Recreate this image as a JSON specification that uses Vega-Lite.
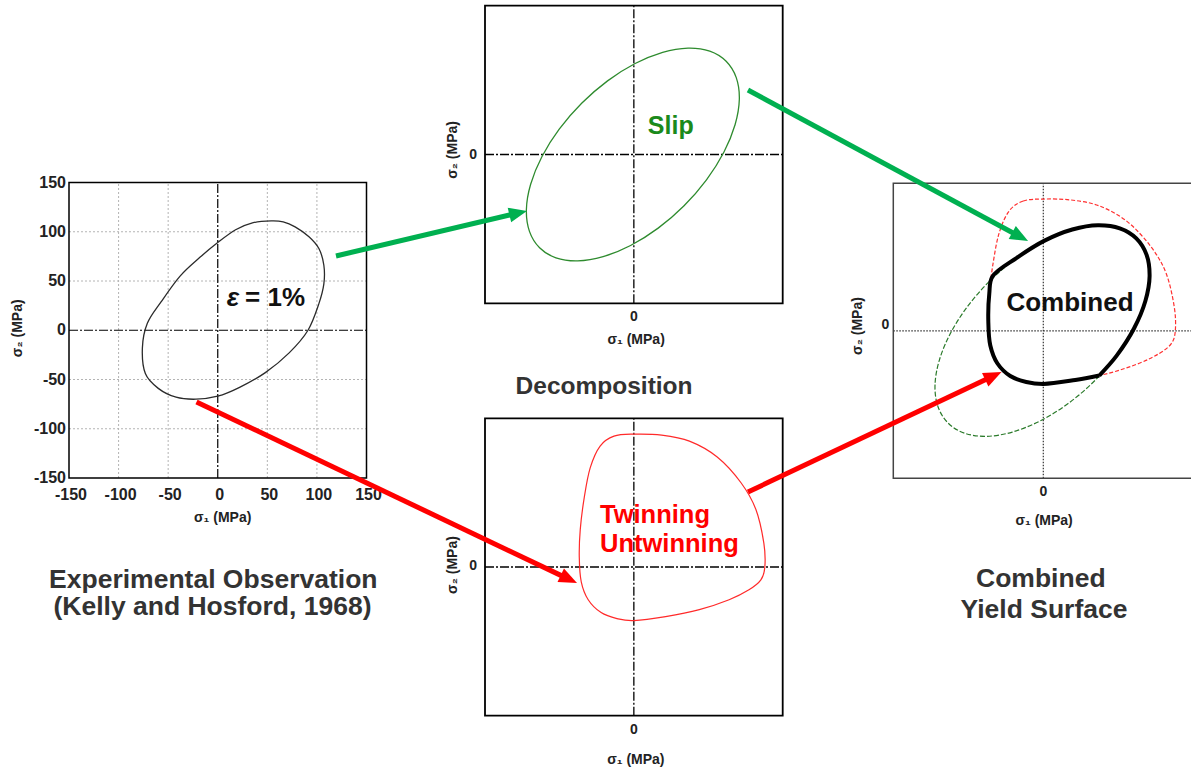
{
  "$schema": "https://vega.github.io/schema/vega-lite/v6.json",
  "width": 1191,
  "height": 772,
  "padding": 0,
  "autosize": {"type": "none"},
  "background": "white",
  "config": {
    "view": {"stroke": null},
    "axis": {"disable": true},
    "text": {"font": "Liberation Sans", "fontWeight": "bold"}
  },
  "data": {"values": [{}]},
  "datasets": {
    "experimental": [
      {"o": 1, "s1": 54, "s2": 111}, {"o": 2, "s1": 35, "s2": 109}, {"o": 3, "s1": 18, "s2": 102},
      {"o": 4, "s1": 0, "s2": 89}, {"o": 5, "s1": -18, "s2": 74}, {"o": 6, "s1": -38, "s2": 55},
      {"o": 7, "s1": -57, "s2": 29}, {"o": 8, "s1": -71, "s2": 7}, {"o": 9, "s1": -76, "s2": -18},
      {"o": 10, "s1": -73, "s2": -44}, {"o": 11, "s1": -60, "s2": -59}, {"o": 12, "s1": -42, "s2": -68},
      {"o": 13, "s1": -22, "s2": -70}, {"o": 14, "s1": 0, "s2": -67}, {"o": 15, "s1": 22, "s2": -58},
      {"o": 16, "s1": 48, "s2": -43}, {"o": 17, "s1": 72, "s2": -23}, {"o": 18, "s1": 91, "s2": 0},
      {"o": 19, "s1": 102, "s2": 27}, {"o": 20, "s1": 107, "s2": 47}, {"o": 21, "s1": 107, "s2": 66},
      {"o": 22, "s1": 102, "s2": 83}, {"o": 23, "s1": 92, "s2": 95}, {"o": 24, "s1": 78, "s2": 105},
      {"o": 25, "s1": 66, "s2": 110}
    ],
    "slip": [
      {"o": 1, "s1": 93.0, "s2": 94.0}, {"o": 2, "s1": 76.5, "s2": 104.2}, {"o": 3, "s1": 54.6, "s2": 107.3},
      {"o": 4, "s1": 29.0, "s2": 103.0}, {"o": 5, "s1": 1.3, "s2": 91.7}, {"o": 6, "s1": -26.5, "s2": 74.2},
      {"o": 7, "s1": -52.6, "s2": 51.6}, {"o": 8, "s1": -75.2, "s2": 25.5}, {"o": 9, "s1": -92.7, "s2": -2.3},
      {"o": 10, "s1": -104.0, "s2": -30.0}, {"o": 11, "s1": -108.3, "s2": -55.6}, {"o": 12, "s1": -105.2, "s2": -77.5},
      {"o": 13, "s1": -95.0, "s2": -94.0}, {"o": 14, "s1": -78.5, "s2": -104.2}, {"o": 15, "s1": -56.6, "s2": -107.3},
      {"o": 16, "s1": -31.0, "s2": -103.0}, {"o": 17, "s1": -3.3, "s2": -91.7}, {"o": 18, "s1": 24.5, "s2": -74.2},
      {"o": 19, "s1": 50.6, "s2": -51.6}, {"o": 20, "s1": 73.2, "s2": -25.5}, {"o": 21, "s1": 90.7, "s2": 2.3},
      {"o": 22, "s1": 102.0, "s2": 30.0}, {"o": 23, "s1": 106.3, "s2": 55.6}, {"o": 24, "s1": 103.2, "s2": 77.5}
    ],
    "twinning": [
      {"o": 1, "s1": 0, "s2": 134}, {"o": 2, "s1": -20, "s2": 132}, {"o": 3, "s1": -34, "s2": 122},
      {"o": 4, "s1": -44, "s2": 100}, {"o": 5, "s1": -50, "s2": 70}, {"o": 6, "s1": -54, "s2": 38},
      {"o": 7, "s1": -55, "s2": 10}, {"o": 8, "s1": -53, "s2": -15}, {"o": 9, "s1": -46, "s2": -33},
      {"o": 10, "s1": -33, "s2": -46}, {"o": 11, "s1": -17, "s2": -52}, {"o": 12, "s1": 0, "s2": -54},
      {"o": 13, "s1": 32, "s2": -50}, {"o": 14, "s1": 66, "s2": -43}, {"o": 15, "s1": 96, "s2": -33},
      {"o": 16, "s1": 116, "s2": -23}, {"o": 17, "s1": 128, "s2": -13}, {"o": 18, "s1": 132, "s2": 0},
      {"o": 19, "s1": 131, "s2": 24}, {"o": 20, "s1": 123, "s2": 58}, {"o": 21, "s1": 108, "s2": 85},
      {"o": 22, "s1": 84, "s2": 111}, {"o": 23, "s1": 56, "s2": 127}, {"o": 24, "s1": 28, "s2": 133}
    ],
    "combined": [
      {"o": 1, "s1": 56, "s2": -45.5}, {"o": 2, "s1": 73.2, "s2": -25.5}, {"o": 3, "s1": 90.7, "s2": 2.3},
      {"o": 4, "s1": 102.0, "s2": 30.0}, {"o": 5, "s1": 106.3, "s2": 55.6}, {"o": 6, "s1": 103.2, "s2": 77.5},
      {"o": 7, "s1": 93.0, "s2": 94.0}, {"o": 8, "s1": 76.5, "s2": 104.2}, {"o": 9, "s1": 54.6, "s2": 107.3},
      {"o": 10, "s1": 29.0, "s2": 103.0}, {"o": 11, "s1": 1.3, "s2": 91.7}, {"o": 12, "s1": -26.5, "s2": 74.2},
      {"o": 13, "s1": -51, "s2": 55}, {"o": 14, "s1": -54, "s2": 38}, {"o": 15, "s1": -55, "s2": 10},
      {"o": 16, "s1": -53, "s2": -15}, {"o": 17, "s1": -46, "s2": -33}, {"o": 18, "s1": -33, "s2": -46},
      {"o": 19, "s1": -17, "s2": -52}, {"o": 20, "s1": 0, "s2": -54}, {"o": 21, "s1": 32, "s2": -50},
      {"o": 22, "s1": 56, "s2": -45.5}
    ],
    "grid": [{"v": -100}, {"v": -50}, {"v": 50}, {"v": 100}],
    "ticks": [{"v": -150}, {"v": -100}, {"v": -50}, {"v": 0}, {"v": 50}, {"v": 100}, {"v": 150}],
    "arrows": [
      {"mechanism": "slip", "x0": 28.21, "y0": 33.16, "x1": 43.59, "y1": 27.56},
      {"mechanism": "slip", "x0": 62.80, "y0": 11.66, "x1": 85.73, "y1": 30.73},
      {"mechanism": "twinning", "x0": 16.50, "y0": 52.07, "x1": 47.84, "y1": 75.08},
      {"mechanism": "twinning", "x0": 62.80, "y0": 63.73, "x1": 83.48, "y1": 48.63}
    ]
  },
  "resolve": {"scale": {"x": "independent", "y": "independent", "color": "independent"}},
  "layer": [
    {
      "layer": [
        {"data": {"name": "grid"}, "mark": {"type": "rule", "stroke": "#b4b4b4", "strokeWidth": 1, "strokeDash": [2, 2]},
         "encoding": {"x": {"field": "v", "type": "quantitative", "scale": {"domain": [-150, 150], "range": [69, 366.5]}},
                      "y": {"datum": -150, "scale": {"domain": [-150, 150], "range": [478, 182.5]}}, "y2": {"datum": 150}}},
        {"data": {"name": "grid"}, "mark": {"type": "rule", "stroke": "#b4b4b4", "strokeWidth": 1, "strokeDash": [2, 2]},
         "encoding": {"y": {"field": "v", "type": "quantitative", "scale": {"domain": [-150, 150], "range": [478, 182.5]}},
                      "x": {"datum": -150, "scale": {"domain": [-150, 150], "range": [69, 366.5]}}, "x2": {"datum": 150}}},
        {"mark": {"type": "rule", "stroke": "#000", "strokeWidth": 1.2, "strokeDash": [9, 2, 2, 2]},
         "encoding": {"x": {"datum": 0, "scale": {"domain": [-150, 150], "range": [69, 366.5]}},
                      "y": {"datum": -150, "scale": {"domain": [-150, 150], "range": [478, 182.5]}}, "y2": {"datum": 150}}},
        {"mark": {"type": "rule", "stroke": "#000", "strokeWidth": 1.2, "strokeDash": [9, 2, 2, 2]},
         "encoding": {"y": {"datum": 0, "scale": {"domain": [-150, 150], "range": [478, 182.5]}},
                      "x": {"datum": -150, "scale": {"domain": [-150, 150], "range": [69, 366.5]}}, "x2": {"datum": 150}}},
        {"mark": {"type": "rect", "fill": "transparent", "stroke": "#000", "strokeWidth": 1.5},
         "encoding": {"x": {"datum": -150, "scale": {"domain": [-150, 150], "range": [69, 366.5]}}, "x2": {"datum": 150},
                      "y": {"datum": -150, "scale": {"domain": [-150, 150], "range": [478, 182.5]}}, "y2": {"datum": 150}}},
        {"data": {"name": "experimental"}, "mark": {"type": "line", "interpolate": "cardinal-closed", "stroke": "#2b2b2b", "strokeWidth": 1.3},
         "encoding": {"x": {"field": "s1", "type": "quantitative", "scale": {"domain": [-150, 150], "range": [69, 366.5]}},
                      "y": {"field": "s2", "type": "quantitative", "scale": {"domain": [-150, 150], "range": [478, 182.5]}},
                      "order": {"field": "o"}}},
        {"data": {"name": "ticks"}, "mark": {"type": "text", "fontSize": 16, "color": "#222", "dy": 17, "dx": 2},
         "encoding": {"x": {"field": "v", "type": "quantitative", "scale": {"domain": [-150, 150], "range": [69, 366.5]}},
                      "y": {"datum": -150, "scale": {"domain": [-150, 150], "range": [478, 182.5]}},
                      "text": {"field": "v", "type": "nominal"}}},
        {"data": {"name": "ticks"}, "mark": {"type": "text", "fontSize": 16, "color": "#222", "align": "right", "dx": -3},
         "encoding": {"y": {"field": "v", "type": "quantitative", "scale": {"domain": [-150, 150], "range": [478, 182.5]}},
                      "x": {"datum": -150, "scale": {"domain": [-150, 150], "range": [69, 366.5]}},
                      "text": {"field": "v", "type": "nominal"}}},
        {"mark": {"type": "text", "text": "σ₁ (MPa)", "fontSize": 14, "color": "#222"},
         "encoding": {"x": {"datum": 5, "scale": {"domain": [-150, 150], "range": [69, 366.5]}},
                      "y": {"datum": -190.6, "scale": {"domain": [-150, 150], "range": [478, 182.5]}}}},
        {"mark": {"type": "text", "text": "σ₂ (MPa)", "fontSize": 14, "color": "#222", "angle": 270},
         "encoding": {"x": {"datum": -201, "scale": {"domain": [-150, 150], "range": [69, 366.5]}},
                      "y": {"datum": 2, "scale": {"domain": [-150, 150], "range": [478, 182.5]}}}},
        {"mark": {"type": "text", "text": "ε", "fontSize": 26, "fontStyle": "italic", "color": "#111", "align": "left", "baseline": "alphabetic"},
         "encoding": {"x": {"datum": 9, "scale": {"domain": [-150, 150], "range": [69, 366.5]}},
                      "y": {"datum": 24.6, "scale": {"domain": [-150, 150], "range": [478, 182.5]}}}},
        {"mark": {"type": "text", "text": "= 1%", "fontSize": 26, "color": "#111", "align": "left", "baseline": "alphabetic"},
         "encoding": {"x": {"datum": 27.5, "scale": {"domain": [-150, 150], "range": [69, 366.5]}},
                      "y": {"datum": 24.6, "scale": {"domain": [-150, 150], "range": [478, 182.5]}}}},
        {"mark": {"type": "text", "text": "Experimental Observation", "fontSize": 26.5, "color": "#333", "baseline": "alphabetic"},
         "encoding": {"x": {"datum": -4.5, "scale": {"domain": [-150, 150], "range": [69, 366.5]}},
                      "y": {"datum": -261.4, "scale": {"domain": [-150, 150], "range": [478, 182.5]}}}},
        {"mark": {"type": "text", "text": "(Kelly and Hosford, 1968)", "fontSize": 26.5, "color": "#333", "baseline": "alphabetic"},
         "encoding": {"x": {"datum": -5.3, "scale": {"domain": [-150, 150], "range": [69, 366.5]}},
                      "y": {"datum": -289.1, "scale": {"domain": [-150, 150], "range": [478, 182.5]}}}}
      ]
    },
    {
      "layer": [
        {"mark": {"type": "rule", "stroke": "#000", "strokeWidth": 1.3, "strokeDash": [9, 2, 2, 2]},
         "encoding": {"x": {"datum": 0, "scale": {"domain": [-150, 150], "range": [485, 782.7]}},
                      "y": {"datum": -150, "scale": {"domain": [-150, 150], "range": [303.3, 5.7]}}, "y2": {"datum": 150}}},
        {"mark": {"type": "rule", "stroke": "#000", "strokeWidth": 1.3, "strokeDash": [9, 2, 2, 2]},
         "encoding": {"y": {"datum": 0, "scale": {"domain": [-150, 150], "range": [303.3, 5.7]}},
                      "x": {"datum": -150, "scale": {"domain": [-150, 150], "range": [485, 782.7]}}, "x2": {"datum": 150}}},
        {"mark": {"type": "rect", "fill": "transparent", "stroke": "#000", "strokeWidth": 1.8},
         "encoding": {"x": {"datum": -150, "scale": {"domain": [-150, 150], "range": [485, 782.7]}}, "x2": {"datum": 150},
                      "y": {"datum": -150, "scale": {"domain": [-150, 150], "range": [303.3, 5.7]}}, "y2": {"datum": 150}}},
        {"data": {"name": "slip"}, "mark": {"type": "line", "interpolate": "cardinal-closed", "stroke": "#2e8b2e", "strokeWidth": 1.3},
         "encoding": {"x": {"field": "s1", "type": "quantitative", "scale": {"domain": [-150, 150], "range": [485, 782.7]}},
                      "y": {"field": "s2", "type": "quantitative", "scale": {"domain": [-150, 150], "range": [303.3, 5.7]}},
                      "order": {"field": "o"}}},
        {"mark": {"type": "text", "text": "Slip", "fontSize": 25, "color": "#1b8a1b", "baseline": "alphabetic"},
         "encoding": {"x": {"datum": 37.2, "scale": {"domain": [-150, 150], "range": [485, 782.7]}},
                      "y": {"datum": 20.5, "scale": {"domain": [-150, 150], "range": [303.3, 5.7]}}}},
        {"mark": {"type": "text", "text": "0", "fontSize": 14, "color": "#222", "dy": 14},
         "encoding": {"x": {"datum": 0, "scale": {"domain": [-150, 150], "range": [485, 782.7]}},
                      "y": {"datum": -150, "scale": {"domain": [-150, 150], "range": [303.3, 5.7]}}}},
        {"mark": {"type": "text", "text": "0", "fontSize": 14, "color": "#222", "align": "right", "dx": -8},
         "encoding": {"x": {"datum": -150, "scale": {"domain": [-150, 150], "range": [485, 782.7]}},
                      "y": {"datum": 0, "scale": {"domain": [-150, 150], "range": [303.3, 5.7]}}}},
        {"mark": {"type": "text", "text": "σ₁ (MPa)", "fontSize": 14, "color": "#222"},
         "encoding": {"x": {"datum": 2.3, "scale": {"domain": [-150, 150], "range": [485, 782.7]}},
                      "y": {"datum": -187, "scale": {"domain": [-150, 150], "range": [303.3, 5.7]}}}},
        {"mark": {"type": "text", "text": "σ₂ (MPa)", "fontSize": 14, "color": "#222", "angle": 270},
         "encoding": {"x": {"datum": -182, "scale": {"domain": [-150, 150], "range": [485, 782.7]}},
                      "y": {"datum": 4.6, "scale": {"domain": [-150, 150], "range": [303.3, 5.7]}}}},
        {"mark": {"type": "text", "text": "Decomposition", "fontSize": 24.5, "color": "#333", "baseline": "alphabetic"},
         "encoding": {"x": {"datum": -30, "scale": {"domain": [-150, 150], "range": [485, 782.7]}},
                      "y": {"datum": -241, "scale": {"domain": [-150, 150], "range": [303.3, 5.7]}}}}
      ]
    },
    {
      "layer": [
        {"mark": {"type": "rule", "stroke": "#000", "strokeWidth": 1.3, "strokeDash": [9, 2, 2, 2]},
         "encoding": {"x": {"datum": 0, "scale": {"domain": [-150, 150], "range": [485, 782.7]}},
                      "y": {"datum": -150, "scale": {"domain": [-150, 150], "range": [715.7, 418.3]}}, "y2": {"datum": 150}}},
        {"mark": {"type": "rule", "stroke": "#000", "strokeWidth": 1.3, "strokeDash": [9, 2, 2, 2]},
         "encoding": {"y": {"datum": 0, "scale": {"domain": [-150, 150], "range": [715.7, 418.3]}},
                      "x": {"datum": -150, "scale": {"domain": [-150, 150], "range": [485, 782.7]}}, "x2": {"datum": 150}}},
        {"mark": {"type": "rect", "fill": "transparent", "stroke": "#000", "strokeWidth": 1.8},
         "encoding": {"x": {"datum": -150, "scale": {"domain": [-150, 150], "range": [485, 782.7]}}, "x2": {"datum": 150},
                      "y": {"datum": -150, "scale": {"domain": [-150, 150], "range": [715.7, 418.3]}}, "y2": {"datum": 150}}},
        {"data": {"name": "twinning"}, "mark": {"type": "line", "interpolate": "cardinal-closed", "stroke": "#ff2a2a", "strokeWidth": 1.2},
         "encoding": {"x": {"field": "s1", "type": "quantitative", "scale": {"domain": [-150, 150], "range": [485, 782.7]}},
                      "y": {"field": "s2", "type": "quantitative", "scale": {"domain": [-150, 150], "range": [715.7, 418.3]}},
                      "order": {"field": "o"}}},
        {"mark": {"type": "text", "text": "Twinning", "fontSize": 25.5, "color": "#ff0000", "align": "left", "baseline": "alphabetic"},
         "encoding": {"x": {"datum": -34.1, "scale": {"domain": [-150, 150], "range": [485, 782.7]}},
                      "y": {"datum": 44.1, "scale": {"domain": [-150, 150], "range": [715.7, 418.3]}}}},
        {"mark": {"type": "text", "text": "Untwinning", "fontSize": 25.5, "color": "#ff0000", "align": "left", "baseline": "alphabetic"},
         "encoding": {"x": {"datum": -34.1, "scale": {"domain": [-150, 150], "range": [485, 782.7]}},
                      "y": {"datum": 15.4, "scale": {"domain": [-150, 150], "range": [715.7, 418.3]}}}},
        {"mark": {"type": "text", "text": "0", "fontSize": 14, "color": "#222", "dy": 14.3},
         "encoding": {"x": {"datum": 0, "scale": {"domain": [-150, 150], "range": [485, 782.7]}},
                      "y": {"datum": -150, "scale": {"domain": [-150, 150], "range": [715.7, 418.3]}}}},
        {"mark": {"type": "text", "text": "0", "fontSize": 14, "color": "#222", "align": "right", "dx": -8, "dy": -1.5},
         "encoding": {"x": {"datum": -150, "scale": {"domain": [-150, 150], "range": [485, 782.7]}},
                      "y": {"datum": 0, "scale": {"domain": [-150, 150], "range": [715.7, 418.3]}}}},
        {"mark": {"type": "text", "text": "σ₁ (MPa)", "fontSize": 14, "color": "#222"},
         "encoding": {"x": {"datum": 2, "scale": {"domain": [-150, 150], "range": [485, 782.7]}},
                      "y": {"datum": -194.7, "scale": {"domain": [-150, 150], "range": [715.7, 418.3]}}}},
        {"mark": {"type": "text", "text": "σ₂ (MPa)", "fontSize": 14, "color": "#222", "angle": 270},
         "encoding": {"x": {"datum": -182, "scale": {"domain": [-150, 150], "range": [485, 782.7]}},
                      "y": {"datum": 2, "scale": {"domain": [-150, 150], "range": [715.7, 418.3]}}}}
      ]
    },
    {
      "layer": [
        {"mark": {"type": "rule", "stroke": "#333", "strokeWidth": 1.2, "strokeDash": [1.5, 1.5]},
         "encoding": {"x": {"datum": 0, "scale": {"domain": [-150, 150], "range": [893.3, 1193.3]}},
                      "y": {"datum": -150, "scale": {"domain": [-150, 150], "range": [478.3, 183.3]}}, "y2": {"datum": 150}}},
        {"mark": {"type": "rule", "stroke": "#333", "strokeWidth": 1.2, "strokeDash": [1.5, 1.5]},
         "encoding": {"y": {"datum": 0, "scale": {"domain": [-150, 150], "range": [478.3, 183.3]}},
                      "x": {"datum": -150, "scale": {"domain": [-150, 150], "range": [893.3, 1193.3]}}, "x2": {"datum": 150}}},
        {"mark": {"type": "rect", "fill": "transparent", "stroke": "#444", "strokeWidth": 1.5},
         "encoding": {"x": {"datum": -150, "scale": {"domain": [-150, 150], "range": [893.3, 1193.3]}}, "x2": {"datum": 150},
                      "y": {"datum": -150, "scale": {"domain": [-150, 150], "range": [478.3, 183.3]}}, "y2": {"datum": 150}}},
        {"data": {"name": "slip"}, "mark": {"type": "line", "interpolate": "cardinal-closed", "stroke": "#2a7a2a", "strokeWidth": 1.2, "strokeDash": [5, 2]},
         "encoding": {"x": {"field": "s1", "type": "quantitative", "scale": {"domain": [-150, 150], "range": [893.3, 1193.3]}},
                      "y": {"field": "s2", "type": "quantitative", "scale": {"domain": [-150, 150], "range": [478.3, 183.3]}},
                      "order": {"field": "o"}}},
        {"data": {"name": "twinning"}, "mark": {"type": "line", "interpolate": "cardinal-closed", "stroke": "#ff3030", "strokeWidth": 1.2, "strokeDash": [4, 2]},
         "encoding": {"x": {"field": "s1", "type": "quantitative", "scale": {"domain": [-150, 150], "range": [893.3, 1193.3]}},
                      "y": {"field": "s2", "type": "quantitative", "scale": {"domain": [-150, 150], "range": [478.3, 183.3]}},
                      "order": {"field": "o"}}},
        {"data": {"name": "combined"}, "mark": {"type": "line", "interpolate": "catmull-rom", "stroke": "#000", "strokeWidth": 4, "strokeJoin": "round"},
         "encoding": {"x": {"field": "s1", "type": "quantitative", "scale": {"domain": [-150, 150], "range": [893.3, 1193.3]}},
                      "y": {"field": "s2", "type": "quantitative", "scale": {"domain": [-150, 150], "range": [478.3, 183.3]}},
                      "order": {"field": "o"}}},
        {"mark": {"type": "text", "text": "Combined", "fontSize": 26, "color": "#111", "baseline": "alphabetic"},
         "encoding": {"x": {"datum": 26.7, "scale": {"domain": [-150, 150], "range": [893.3, 1193.3]}},
                      "y": {"datum": 20.5, "scale": {"domain": [-150, 150], "range": [478.3, 183.3]}}}},
        {"mark": {"type": "text", "text": "0", "fontSize": 14, "color": "#222", "dy": 13.4},
         "encoding": {"x": {"datum": 0, "scale": {"domain": [-150, 150], "range": [893.3, 1193.3]}},
                      "y": {"datum": -150, "scale": {"domain": [-150, 150], "range": [478.3, 183.3]}}}},
        {"mark": {"type": "text", "text": "0", "fontSize": 14, "color": "#222", "align": "right", "dx": -4, "dy": -5.7},
         "encoding": {"x": {"datum": -150, "scale": {"domain": [-150, 150], "range": [893.3, 1193.3]}},
                      "y": {"datum": 0, "scale": {"domain": [-150, 150], "range": [478.3, 183.3]}}}},
        {"mark": {"type": "text", "text": "σ₁ (MPa)", "fontSize": 14, "color": "#222"},
         "encoding": {"x": {"datum": 0.8, "scale": {"domain": [-150, 150], "range": [893.3, 1193.3]}},
                      "y": {"datum": -193.1, "scale": {"domain": [-150, 150], "range": [478.3, 183.3]}}}},
        {"mark": {"type": "text", "text": "σ₂ (MPa)", "fontSize": 14, "color": "#222", "angle": 270},
         "encoding": {"x": {"datum": -185.8, "scale": {"domain": [-150, 150], "range": [893.3, 1193.3]}},
                      "y": {"datum": 4.9, "scale": {"domain": [-150, 150], "range": [478.3, 183.3]}}}},
        {"mark": {"type": "text", "text": "Combined", "fontSize": 26.5, "color": "#333", "baseline": "alphabetic"},
         "encoding": {"x": {"datum": -2.5, "scale": {"domain": [-150, 150], "range": [893.3, 1193.3]}},
                      "y": {"datum": -260.3, "scale": {"domain": [-150, 150], "range": [478.3, 183.3]}}}},
        {"mark": {"type": "text", "text": "Yield Surface", "fontSize": 26.5, "color": "#333", "baseline": "alphabetic"},
         "encoding": {"x": {"datum": 0.7, "scale": {"domain": [-150, 150], "range": [893.3, 1193.3]}},
                      "y": {"datum": -292.4, "scale": {"domain": [-150, 150], "range": [478.3, 183.3]}}}}
      ]
    },
    {
      "data": {"name": "arrows"},
      "layer": [
        {"mark": {"type": "rule", "strokeWidth": 5},
         "encoding": {"x": {"field": "x0", "type": "quantitative", "scale": {"domain": [0, 100], "range": [0, 1191]}},
                      "y": {"field": "y0", "type": "quantitative", "scale": {"domain": [0, 100], "range": [0, 772]}},
                      "x2": {"field": "x1"}, "y2": {"field": "y1"},
                      "color": {"field": "mechanism", "type": "nominal", "legend": null,
                                "scale": {"domain": ["slip", "twinning"], "range": ["#00b050", "#ff0000"]}}}},
        {"transform": [{"calculate": "atan2((datum.y1 - datum.y0) * 7.72, (datum.x1 - datum.x0) * 11.91) * 180 / PI", "as": "heading"}],
         "mark": {"type": "point", "shape": "M0.8,0L-1,-0.75L-1,0.75Z", "size": 400, "filled": true, "opacity": 1, "strokeWidth": 0},
         "encoding": {"x": {"field": "x1", "type": "quantitative", "scale": {"domain": [0, 100], "range": [0, 1191]}},
                      "y": {"field": "y1", "type": "quantitative", "scale": {"domain": [0, 100], "range": [0, 772]}},
                      "angle": {"field": "heading", "type": "quantitative", "scale": null},
                      "color": {"field": "mechanism", "type": "nominal", "legend": null,
                                "scale": {"domain": ["slip", "twinning"], "range": ["#00b050", "#ff0000"]}}}}
      ]
    }
  ]
}
